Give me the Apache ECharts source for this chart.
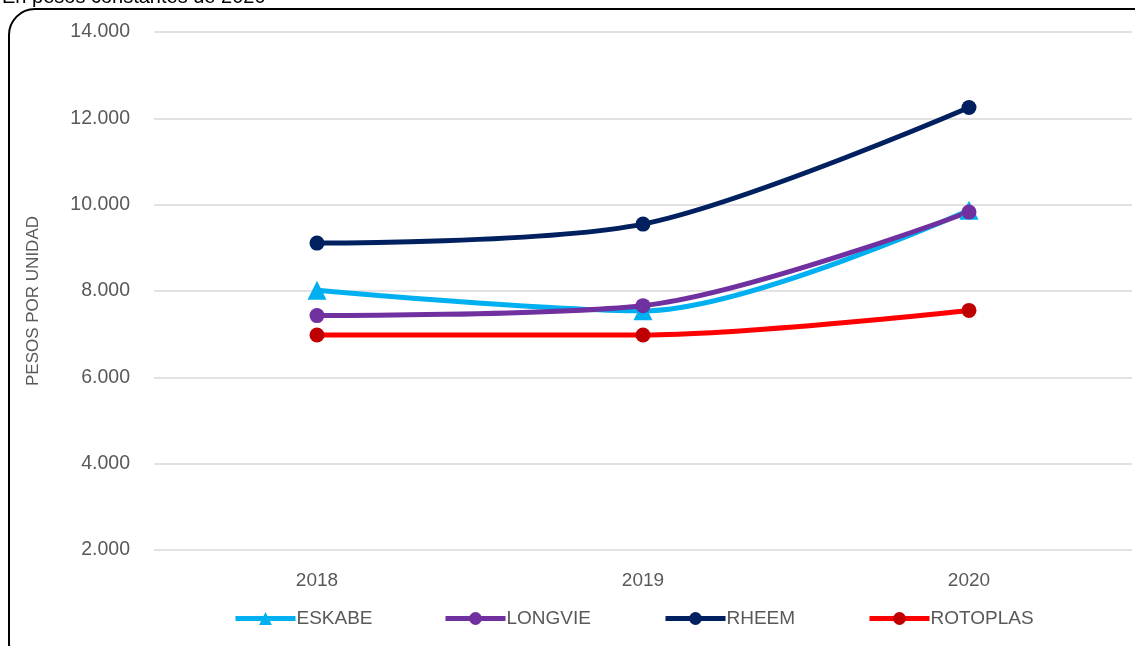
<!DOCTYPE html>
<html><head><meta charset="utf-8">
<script src="https://cdn.jsdelivr.net/npm/echarts@6/dist/echarts.min.js"></script>
<style>html,body{margin:0;padding:0;background:#fff}#c{width:1135px;height:646px}</style>
</head><body><div id="c"></div>
<script>
const categories = ['2018', '2019', '2020'];
const eskabe = [8020, 7540, 9870];
const longvie = [7430, 7660, 9830];
const rheem = [9110, 9550, 12250];
const rotoplas = [6980, 6980, 7550];
const yTicks = { min: 2000, max: 14000, interval: 2000 };
const seriesNames = ['ESKABE', 'LONGVIE', 'RHEEM', 'ROTOPLAS'];

const font = '"Liberation Sans Narrow", "Liberation Sans", sans-serif';
const chart = echarts.init(document.getElementById('c'), null, { renderer: 'canvas' });

function mk(name, data, lineColor, markColor, symbol, size) {
  return {
    name, type: 'line', data, smooth: 0.3, symbol, symbolSize: size,
    lineStyle: { color: lineColor, width: 5 },
    itemStyle: { color: markColor },
    emphasis: { disabled: true }, animation: false
  };
}
const legendLefts = [228, 438, 658, 862];
chart.setOption({
  animation: false,
  graphic: [
    { type: 'rect', shape: { x: 9, y: 9, width: 1150, height: 660, r: 26 },
      style: { fill: 'none', stroke: '#000', lineWidth: 2 }, z: -1 },
    { type: 'text', left: 2, top: -13, style: { text: 'En pesos constantes de 2020', font: '20px "Liberation Sans", sans-serif', fill: '#000' } }
  ],
  grid: { left: 154, right: 3, top: 32, bottom: 96, containLabel: false },
  xAxis: {
    type: 'category', data: categories, boundaryGap: true,
    axisLine: { show: false }, axisTick: { show: false },
    axisLabel: { color: '#595959', fontSize: 19, fontFamily: '"Liberation Sans", sans-serif', margin: 21 }
  },
  yAxis: {
    type: 'value', min: yTicks.min, max: yTicks.max, interval: yTicks.interval,
    name: 'PESOS POR UNIDAD', nameLocation: 'middle', nameGap: 112, nameRotate: 90,
    nameTextStyle: { color: '#595959', fontSize: 17, fontFamily: font, padding: [0, 20, 0, 0] },
    axisLine: { show: false }, axisTick: { show: false },
    splitLine: { lineStyle: { color: '#D9D9D9', width: 1.5 } },
    axisLabel: { color: '#595959', fontSize: 19.5, fontFamily: '"Liberation Sans", sans-serif', margin: 24,
      formatter: v => v.toLocaleString('de-DE') }
  },
  legend: seriesNames.map((n, i) => ({
    data: [n], left: legendLefts[i], top: 604, itemWidth: 60, itemHeight: 16, itemGap: 0,
    lineStyle: { width: 5 },
    textStyle: { color: '#595959', fontSize: 19, fontFamily: font, padding: [0, 0, 0, -4] },
    selectedMode: false
  })),
  series: [
    mk('ESKABE', eskabe, '#00B0F0', '#00B0F0', 'triangle', 19),
    mk('LONGVIE', longvie, '#7030A0', '#7030A0', 'circle', 15),
    mk('RHEEM', rheem, '#002060', '#002060', 'circle', 15),
    mk('ROTOPLAS', rotoplas, '#FF0000', '#C00000', 'circle', 15)
  ]
});
</script></body></html>
